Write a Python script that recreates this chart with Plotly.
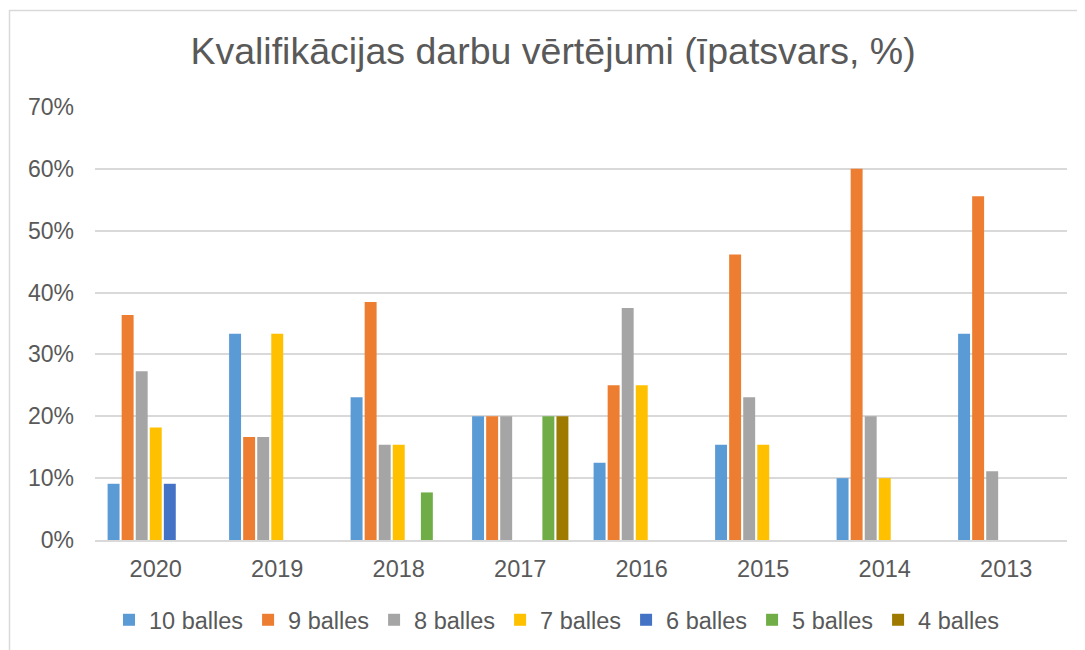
import plotly.graph_objects as go

years = ["2020", "2019", "2018", "2017", "2016", "2015", "2014", "2013"]
series_names = ["10 balles", "9 balles", "8 balles", "7 balles", "6 balles", "5 balles", "4 balles"]
b10 = [0.0909, 0.3333, 0.2308, 0.20, 0.125, 0.1538, 0.10, 0.3333]
b9 = [0.3636, 0.1667, 0.3846, 0.20, 0.25, 0.4615, 0.60, 0.5556]
b8 = [0.2727, 0.1667, 0.1538, 0.20, 0.375, 0.2308, 0.20, 0.1111]
b7 = [0.1818, 0.3333, 0.1538, 0.0, 0.25, 0.1538, 0.10, 0.0]
b6 = [0.0909, 0.0, 0.0, 0.0, 0.0, 0.0, 0.0, 0.0]
b5 = [0.0, 0.0, 0.0769, 0.20, 0.0, 0.0, 0.0, 0.0]
b4 = [0.0, 0.0, 0.0, 0.20, 0.0, 0.0, 0.0, 0.0]
values = [b10, b9, b8, b7, b6, b5, b4]
colors = ["#5B9BD5", "#ED7D31", "#A5A5A5", "#FFC000", "#4472C4", "#70AD47", "#9E7A00"]

fig = go.Figure()
for name, vals, col in zip(series_names, values, colors):
    fig.add_trace(go.Bar(x=years, y=vals, name=name, marker=dict(color=col, line=dict(width=0))))

font_family = "Liberation Sans, Arial, sans-serif"
W, H = 1077, 642
L, R, T, B = 87, 18, 99, 110
pw, ph = W - L - R, H - T - B
fig.update_layout(
    width=W, height=H,
    margin=dict(l=L, r=R, t=T, b=B, autoexpand=False),
    paper_bgcolor="white", plot_bgcolor="white",
    barmode="group", bargap=0.19, bargroupgap=0.15,
    title=dict(text="Kvalifikācijas darbu vērtējumi (īpatsvars, %)", x=545 / W, xanchor="center",
               y=1 - 43 / H, yanchor="middle",
               font=dict(family=font_family, size=37.5, color="#595959")),
    font=dict(family=font_family, color="#595959", size=23.5),
    xaxis=dict(showgrid=False, showline=True, linecolor="#D9D9D9", linewidth=1.5, ticks="",
               ticklabelstandoff=7, tickfont=dict(size=23.5, color="#595959")),
    yaxis=dict(range=[0, 0.7], dtick=0.1, tickformat=".0%", showgrid=True, gridcolor="#D9D9D9",
               gridwidth=1.5, zeroline=False, showline=False, ticks="", ticklen=0,
               ticklabelstandoff=20, tickfont=dict(size=23, color="#595959")),
    legend=dict(orientation="h", x=(557 - 8 - L) / pw, xanchor="center", y=-80 / ph, yanchor="middle",
                font=dict(size=23.5, color="#595959"), itemwidth=30, traceorder="normal"),
    shapes=[dict(type="rect", xref="paper", yref="paper",
                 x0=(1.5 - L) / pw, x1=1.2, y0=-0.6, y1=1 + (T - 2.5) / ph,
                 line=dict(color="#D9D9D9", width=1.5), fillcolor="rgba(0,0,0,0)", layer="below")],
)
fig.write_html("out.html")
